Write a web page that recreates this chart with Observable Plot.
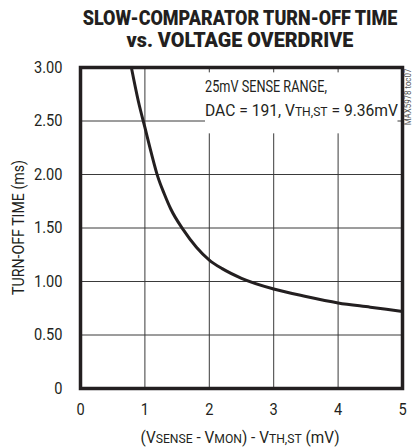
<!DOCTYPE html>
<html>
<head>
<meta charset="utf-8">
<script src="https://cdn.jsdelivr.net/npm/d3@7"></script>
<script src="https://cdn.jsdelivr.net/npm/@observablehq/plot@0.6"></script>
<style>
  html, body { margin: 0; padding: 0; background: #fff; }
  #chart { width: 413px; height: 448px; }
  svg { display: block; }
</style>
</head>
<body>
<div id="chart"></div>
<script>
// ---- data ----
const overdrive = [0.79, 0.9, 1.0, 1.1, 1.2, 1.3, 1.4, 1.6, 1.8, 2.0, 2.2, 2.5, 3.0, 3.5, 4.0, 4.5, 5.0]; // mV
const turnOff   = [3.00, 2.68, 2.44, 2.20, 1.98, 1.82, 1.68, 1.48, 1.32, 1.20, 1.12, 1.03, 0.93, 0.86, 0.80, 0.76, 0.72]; // ms
const xTicks = [0, 1, 2, 3, 4, 5];
const yTicks = [0, 0.5, 1.0, 1.5, 2.0, 2.5, 3.0];
const titleLines = ["SLOW-COMPARATOR TURN-OFF TIME", "vs. VOLTAGE OVERDRIVE"];
const yLabel = "TURN-OFF TIME (ms)";
const noteLine1 = "25mV SENSE RANGE,";
const noteLine2 = [["DAC = 191, V", false], ["TH,ST", true], [" = 9.36mV", false]];
const xLabelParts = [["(V", false], ["SENSE", true], [" - V", false], ["MON", true], [") - V", false], ["TH,ST", true], [" (mV)", false]];
const sideNote = "MAX5978 toc07";

const data = overdrive.map((x, i) => ({x, y: turnOff[i]}));
const FONT = "Roboto, 'Liberation Sans', sans-serif";
const INK = "#231f20";

const chart = Plot.plot({
  width: 413,
  height: 448,
  marginLeft: 80,
  marginRight: 11,
  marginTop: 67,
  marginBottom: 60,
  style: {fontFamily: FONT, fontSize: "17px", color: INK, background: "#fff"},
  x: {domain: [0, 5], label: null},
  y: {domain: [0, 3], label: null},
  marks: [
    Plot.gridY(yTicks.slice(1, -1), {stroke: "#3a3a3a", strokeOpacity: 1, strokeWidth: 1}),
    Plot.gridX(xTicks.slice(1, -1), {stroke: "#3a3a3a", strokeOpacity: 1, strokeWidth: 1}),
    Plot.axisY(yTicks, {tickSize: 0, tickPadding: 18, fontSize: 17, fill: INK,
      tickFormat: d => d === 0 ? "0" : d.toFixed(2)}),
    Plot.axisX(xTicks, {tickSize: 0, tickPadding: 14, fontSize: 17, fill: INK, tickFormat: d => String(d)}),
    Plot.line(data, {x: "x", y: "y", stroke: INK, strokeWidth: 3, curve: "monotone-x"}),
    Plot.frame({stroke: INK, strokeWidth: 3.5})
  ]
});
document.getElementById("chart").appendChild(chart);

const xs = chart.scale("x"), ys = chart.scale("y");
const svg = d3.select(chart);

// condense text horizontally (reference uses a condensed face), scaling about the text's anchor
function squeeze(node, target) {
  const bb = node.getBBox();
  const k = target != null ? target / bb.width : 0.86;
  const anchor = getComputedStyle(node).textAnchor;
  const ax = anchor === "end" ? bb.x + bb.width : anchor === "middle" ? bb.x + bb.width / 2 : bb.x;
  const prev = node.getAttribute("transform") || "";
  node.setAttribute("transform", `${prev} translate(${ax},0) scale(${k},1) translate(${-ax},0)`.trim());
}
svg.selectAll("g[aria-label='y-axis tick label'] text, g[aria-label='x-axis tick label'] text")
  .each(function () { squeeze(this); });

function addText(opts) {
  return svg.append("text").attr("font-family", FONT).attr("fill", INK)
    .attr("text-anchor", opts.anchor || "start").attr("font-size", opts.size)
    .attr("font-weight", opts.weight || "normal");
}

// lay out a run of parts (normal + small-cap subscript) as separate texts, squeezed to a total width
function runLine(parts, x0, y, size, smallSize, totalW, centered) {
  const els = parts.map(([t, small]) => addText({size: small ? smallSize : size}).attr("x", 0).attr("y", y).text(t));
  const widths = els.map(e => e.node().getComputedTextLength());
  const k = totalW / d3.sum(widths);
  let x = centered ? x0 - totalW / 2 : x0;
  els.forEach((e, i) => {
    e.attr("transform", `translate(${x},0) scale(${k},1)`);
    x += widths[i] * k;
  });
}

// annotation box (white background hiding grid)
const bx0 = 205, by0 = ys.apply(2.95), bx1 = xs.apply(4.93), by1 = ys.apply(2.38);
svg.append("rect").attr("x", bx0).attr("y", by0).attr("width", bx1 - bx0).attr("height", by1 - by0).attr("fill", "#fff");
const n1 = addText({size: 17.4}).attr("x", bx0).attr("y", 91.7).text(noteLine1);
squeeze(n1.node(), 122);
runLine(noteLine2, bx0, 116, 17.4, 13.5, 193, false);

// title
const titleW = [315, 227];
titleLines.forEach((t, i) => {
  const el = addText({size: 20, weight: 900, anchor: "middle"}).attr("x", 240).attr("y", 25 + i * 21.7).text(t);
  squeeze(el.node(), titleW[i]);
});

// y label
const yl = addText({size: 17, anchor: "middle"})
  .attr("transform", `translate(24,${(ys.apply(0) + ys.apply(3)) / 2}) rotate(-90)`)
  .text(yLabel);
squeeze(yl.node(), 135);

// x label with small caps subscripts
runLine(xLabelParts, 240, 443, 17, 13.5, 199, true);

// side note
const sn = addText({size: 8.5, anchor: "middle"}).attr("fill", "#555")
  .attr("transform", "translate(411,97) rotate(-90)").text(sideNote);
squeeze(sn.node(), 57);
</script>
</body>
</html>
